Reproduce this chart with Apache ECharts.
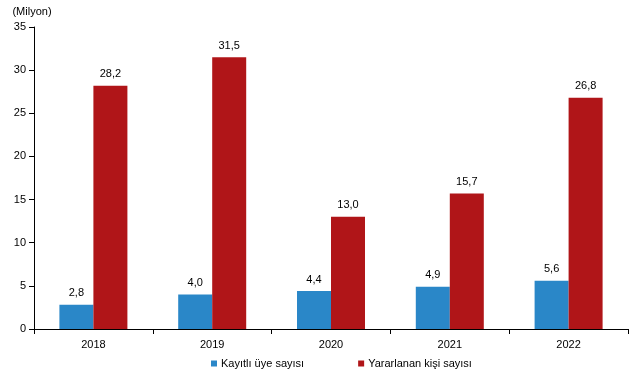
<!DOCTYPE html>
<html><head><meta charset="utf-8">
<script src="https://cdn.jsdelivr.net/npm/echarts@6/dist/echarts.min.js"></script>
<style>html,body{margin:0;padding:0;background:#fff}#c{width:637px;height:378px}</style>
</head><body><div id="c"></div>
<script>
const categories = ['2018','2019','2020','2021','2022'];
const registered = [2.8, 4.0, 4.4, 4.9, 5.6];
const beneficiaries = [28.2, 31.5, 13.0, 15.7, 26.8];
const seriesNames = ['Kayıtlı üye sayısı', 'Yararlanan kişi sayısı'];
const unitLabel = '(Milyon)';

const font = 'Liberation Sans, Arial, sans-serif';
const fmt = p => p.value.toFixed(1).replace('.', ',');
const chart = echarts.init(document.getElementById('c'), null, {renderer:'canvas'});
chart.setOption({
  animation:false,
  textStyle:{fontFamily:font},
  grid:{left:34,right:9,top:27,bottom:49},
  legend:{
    bottom:4, left:206, itemWidth:6, itemHeight:6, itemGap:54,
    icon:'rect',
    textStyle:{fontFamily:font,fontSize:11,color:'#000',padding:[0,0,0,-1]},
    data:seriesNames
  },
  xAxis:{
    type:'category', data:categories,
    axisLine:{lineStyle:{color:'#000'}},
    axisTick:{show:true,lineStyle:{color:'#000'},length:5},
    axisLabel:{color:'#000',fontSize:11,fontFamily:font,margin:10}
  },
  yAxis:{
    type:'value', min:0, max:35, interval:5,
    name:unitLabel, nameLocation:'end', nameGap:10,
    nameTextStyle:{color:'#000',fontSize:11,fontFamily:font,align:'center',padding:[0,0,0,-4]},
    axisLine:{show:true,lineStyle:{color:'#000'}},
    axisTick:{show:true,lineStyle:{color:'#000'},length:5},
    splitLine:{show:false},
    axisLabel:{color:'#000',fontSize:11,fontFamily:font,margin:8}
  },
  series:[
    {name:seriesNames[0],type:'bar',data:registered,barWidth:34,barGap:'0%',
     itemStyle:{color:'#2A87C8'},
     label:{show:true,position:'top',color:'#000',fontSize:11,fontFamily:font,formatter:fmt,distance:6}},
    {name:seriesNames[1],type:'bar',data:beneficiaries,barWidth:34,
     itemStyle:{color:'#B01518'},
     label:{show:true,position:'top',color:'#000',fontSize:11,fontFamily:font,formatter:fmt,distance:6}}
  ]
});
</script></body></html>
